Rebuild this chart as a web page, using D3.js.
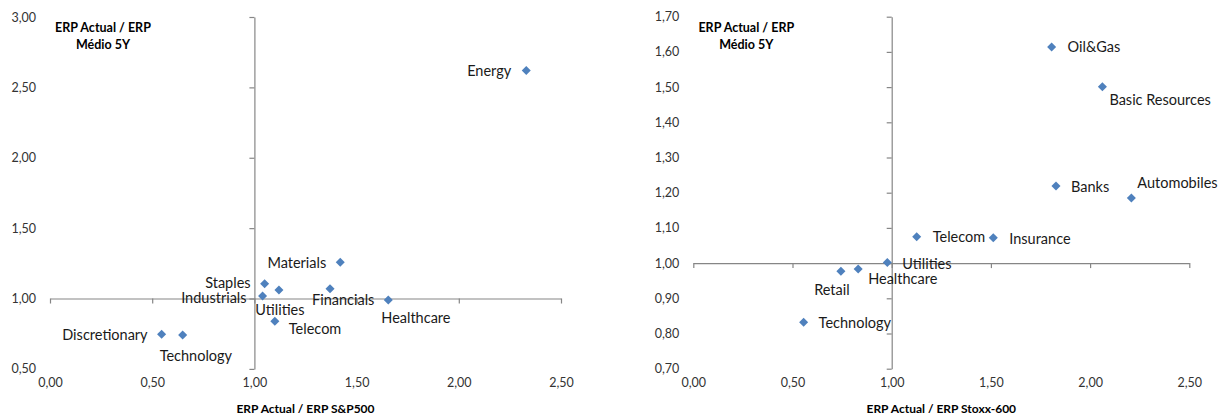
<!DOCTYPE html>
<html>
<head>
<meta charset="utf-8">
<script src="https://cdn.jsdelivr.net/npm/d3@7"></script>
<style>
  html, body { margin: 0; padding: 0; background: #fff; }
  svg { display: block; }
  text { font-family: Lato, "Open Sans", sans-serif; }
</style>
</head>
<body>
<svg id="chart" width="1219" height="416"></svg>
<script>
// US sectors: ERP vs S&P500 (x) and vs own 5Y average (y)
const usSectors = ["Energy", "Materials", "Staples", "Utilities", "Industrials",
                   "Financials", "Healthcare", "Telecom", "Discretionary", "Technology"];
const usRelIndex = [2.33, 1.42, 1.05, 1.12, 1.04, 1.37, 1.655, 1.10, 0.546, 0.649];
const usRel5Y    = [2.62, 1.257, 1.105, 1.06, 1.018, 1.07, 0.989, 0.838, 0.746, 0.741];

// European sectors: ERP vs Stoxx-600 (x) and vs own 5Y average (y)
const euSectors = ["Oil&Gas", "Basic Resources", "Banks", "Automobiles", "Telecom",
                   "Insurance", "Utilities", "Healthcare", "Retail", "Technology"];
const euRelIndex = [1.806, 2.062, 1.828, 2.208, 1.126, 1.512, 0.978, 0.831, 0.744, 0.556];
const euRel5Y    = [1.614, 1.501, 1.219, 1.185, 1.075, 1.072, 1.002, 0.983, 0.977, 0.832];

const xTicks = [0, 0.5, 1, 1.5, 2, 2.5];
const usYTicks = [0.5, 1, 1.5, 2, 2.5, 3];
const euYTicks = [0.7, 0.8, 0.9, 1.0, 1.1, 1.2, 1.3, 1.4, 1.5, 1.6, 1.7];

const yTitle = ["ERP Actual / ERP", "Médio 5Y"];
const usXTitle = "ERP Actual / ERP S&P500";
const euXTitle = "ERP Actual / ERP Stoxx-600";

const fmt = v => d3.format(".2f")(v).replace(".", ",");
const svg = d3.select("#chart");
const axisColor = "#868686";
const markColor = "#4F81BD";

// label placement: [dx, dy, anchor]
const usPlacement = {
  "Energy": [-15, 0, "end"], "Materials": [-14, 0, "end"], "Staples": [-14, -1, "end"],
  "Industrials": [-16, 1.5, "end"], "Utilities": [1, 19, "middle"], "Financials": [-18, 11, "start"],
  "Healthcare": [-7, 17, "start"], "Telecom": [14, 7, "start"], "Discretionary": [-14, 0, "end"],
  "Technology": [-23, 21, "start"]
};
const euPlacement = {
  "Oil&Gas": [16, 0, "start"], "Basic Resources": [7, 13, "start"], "Banks": [15, 0, "start"],
  "Automobiles": [6, -15, "start"], "Telecom": [16, 0, "start"], "Insurance": [16, 1, "start"],
  "Utilities": [15, 1, "start"], "Healthcare": [10, 9, "start"], "Retail": [-9, 18, "middle"],
  "Technology": [15, 0, "start"]
};

function panel(cfg) {
  const x = d3.scaleLinear().domain([0, 2.5]).range([cfg.left, cfg.right]);
  const y = d3.scaleLinear().domain(cfg.yDomain).range([cfg.bottom, cfg.top]);
  const g = svg.append("g");

  // tick labels along the outer edges
  const yLab = g.append("g").attr("transform", `translate(${cfg.left},0)`)
    .call(d3.axisLeft(y).tickValues(cfg.yTicks).tickFormat(fmt).tickSize(0).tickPadding(14));
  yLab.select(".domain").remove();
  yLab.selectAll("text").attr("font-size", 12.5).attr("fill", "#333")
    .attr("font-family", "Lato, 'Open Sans', sans-serif");

  const xLab = g.append("g").attr("transform", `translate(0,${cfg.bottom})`)
    .call(d3.axisBottom(x).tickValues(xTicks).tickFormat(fmt).tickSize(0).tickPadding(9));
  xLab.select(".domain").remove();
  xLab.selectAll("text").attr("font-size", 12.5).attr("fill", "#333")
    .attr("font-family", "Lato, 'Open Sans', sans-serif");

  // axis lines crossing at 1,00
  const yAx = g.append("g").attr("transform", `translate(${x(1)},0)`)
    .call(d3.axisLeft(y).tickValues(cfg.yTicks).tickFormat("").tickSizeInner(5).tickSizeOuter(0));
  const xAx = g.append("g").attr("transform", `translate(0,${y(1)})`)
    .call(d3.axisBottom(x).tickValues(xTicks).tickFormat("").tickSizeInner(5).tickSizeOuter(0));
  [yAx, xAx].forEach(a => {
    a.select(".domain").attr("stroke", axisColor).attr("stroke-width", 1.2);
    a.selectAll(".tick line").attr("stroke", axisColor).attr("stroke-width", 1.2);
  });

  const data = cfg.names.map((n, i) => ({ name: n, vx: cfg.xs[i], vy: cfg.ys[i] }));

  // diamonds
  g.selectAll("path.pt").data(data).join("path")
    .attr("class", "pt")
    .attr("d", d3.symbol().type(d3.symbolDiamond2).size(52))
    .attr("transform", d => `translate(${x(d.vx)},${y(d.vy)})`)
    .attr("fill", markColor);

  // data labels
  g.selectAll("text.lbl").data(data).join("text")
    .attr("class", "lbl")
    .attr("x", d => x(d.vx) + cfg.place[d.name][0])
    .attr("y", d => y(d.vy) + cfg.place[d.name][1])
    .attr("text-anchor", d => cfg.place[d.name][2])
    .attr("dominant-baseline", "central")
    .attr("font-size", 14.5)
    .attr("fill", "#1a1a1a")
    .text(d => d.name);

  // axis titles
  g.append("text")
    .attr("x", (cfg.left + cfg.right) / 2).attr("y", 408)
    .attr("text-anchor", "middle").attr("dominant-baseline", "central")
    .attr("font-size", 12).attr("font-weight", "bold").attr("fill", "#000")
    .text(cfg.xTitle);
  g.append("text")
    .attr("x", cfg.left + 53).attr("text-anchor", "middle")
    .attr("font-size", 12.5).attr("font-weight", "bold").attr("fill", "#000")
    .selectAll("tspan").data(yTitle).join("tspan")
    .attr("x", cfg.left + 53)
    .attr("y", (d, i) => 27 + i * 17)
    .attr("dominant-baseline", "central")
    .text(d => d);
}

panel({ left: 50, right: 561, top: 17, bottom: 368.9, yDomain: [0.5, 3],
        yTicks: usYTicks, names: usSectors, xs: usRelIndex, ys: usRel5Y,
        place: usPlacement, xTitle: usXTitle });
panel({ left: 693.3, right: 1189.3, top: 16.7, bottom: 368.7, yDomain: [0.7, 1.7],
        yTicks: euYTicks, names: euSectors, xs: euRelIndex, ys: euRel5Y,
        place: euPlacement, xTitle: euXTitle });
</script>
</body>
</html>
